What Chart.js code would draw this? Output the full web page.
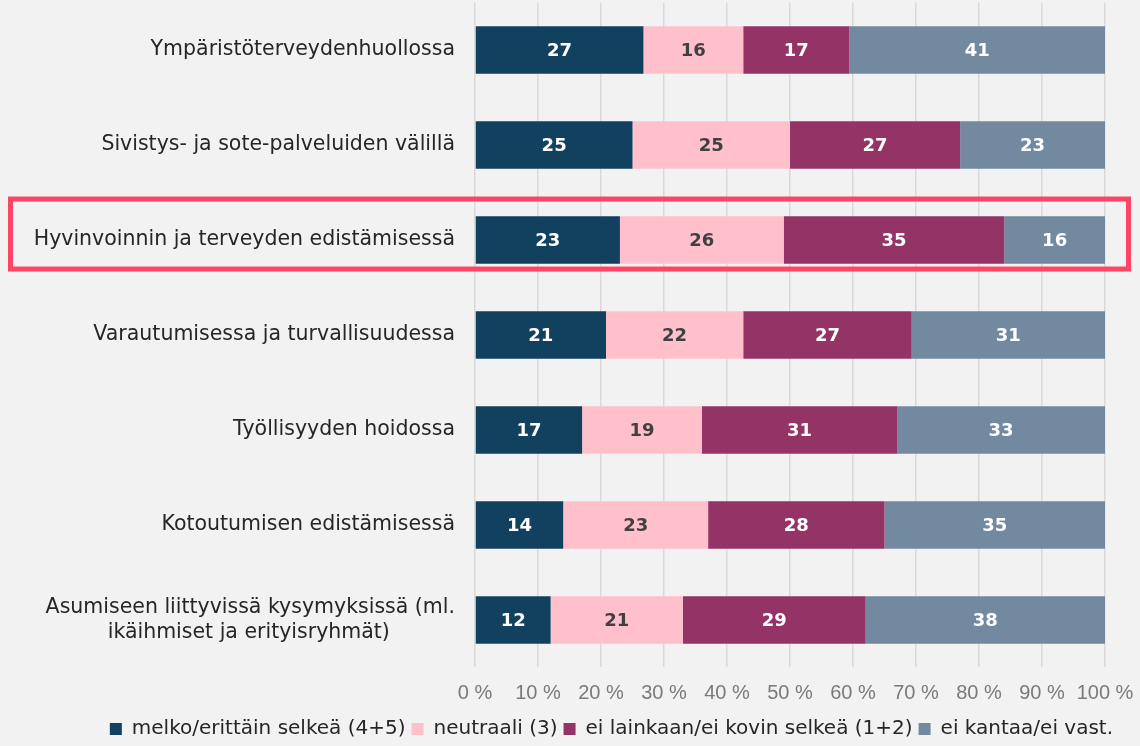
<!DOCTYPE html>
<html>
<head>
<meta charset="utf-8">
<script src="https://cdn.jsdelivr.net/npm/chart.js@4"></script>
<style>
  html, body { margin: 0; padding: 0; background: #f2f2f2; overflow: hidden; }
  #wrap { width: 1140px; height: 773px; position: relative; top: -22px; }
</style>
</head>
<body>
<div id="wrap"><canvas id="chart"></canvas></div>
<script>
// === Selkeys eri teemoissa, 100 % pinottu palkki ===

const categories = [
    'Ympäristöterveydenhuollossa',
    'Sivistys- ja sote-palveluiden välillä',
    'Hyvinvoinnin ja terveyden edistämisessä',
    'Varautumisessa ja turvallisuudessa',
    'Työllisyyden hoidossa',
    'Kotoutumisen edistämisessä',
    ['Asumiseen liittyvissä kysymyksissä (ml.', 'ikäihmiset ja erityisryhmät)          ']
];

const seriesNames = ['melko/erittäin selkeä (4+5)', 'neutraali (3)', 'ei lainkaan/ei kovin selkeä (1+2)', 'ei kantaa/ei vast.'];

const selkea = [27, 25, 23, 21, 17, 14, 12];
const neutraali = [16, 25, 26, 22, 19, 23, 21];
const epaselva = [17, 27, 35, 27, 31, 28, 29];
const eiKantaa = [41, 23, 16, 31, 33, 35, 38];

const xTicks = [0, 10, 20, 30, 40, 50, 60, 70, 80, 90, 100];

const highlightRow = 2;

// Theme colors
const COLORS = ['#12405f', '#ffc0cc', '#933366', '#7389a0'];
const LABEL_COLORS = ['#ffffff', '#404040', '#ffffff', '#ffffff'];
const FONT = '"DejaVu Sans", "Noto Sans", sans-serif';

const series = [selkea, neutraali, epaselva, eiKantaa];
const rowTotals = categories.map((c, i) => series.reduce((s, arr) => s + arr[i], 0));

const valueLabels = {
    id: 'valueLabels',
    afterDatasetsDraw(chart) {
        const ctx = chart.ctx;
        ctx.save();
        ctx.font = 'bold 18px ' + FONT;
        ctx.textAlign = 'center';
        ctx.textBaseline = 'middle';
        chart.data.datasets.forEach((ds, di) => {
            const meta = chart.getDatasetMeta(di);
            ctx.fillStyle = LABEL_COLORS[di];
            meta.data.forEach((bar, i) => {
                const cx = (bar.x + bar.base) / 2;
                ctx.fillText(String(ds.raw[i]), cx, bar.y + 1);
            });
        });
        ctx.restore();
    }
};

const highlightBox = {
    id: 'highlightBox',
    afterDraw(chart) {
        const ctx = chart.ctx;
        const y = chart.scales.y.getPixelForValue(highlightRow);
        ctx.save();
        ctx.strokeStyle = '#ff4466';
        ctx.lineWidth = 5;
        ctx.strokeRect(10.5, y - 41, chart.width - 22, 70);
        ctx.restore();
    }
};

Chart.defaults.font.family = FONT;

new Chart(document.getElementById('chart'), {
    type: 'bar',
    data: {
        labels: categories,
        datasets: series.map((arr, k) => ({
            label: seriesNames[k],
            raw: arr,
            data: arr.map((v, i) => v / rowTotals[i] * 100),
            backgroundColor: COLORS[k],
            borderWidth: 0,
            barPercentage: 0.5,
            categoryPercentage: 1
        }))
    },
    options: {
        indexAxis: 'y',
        responsive: true,
        maintainAspectRatio: false,
        animation: false,
        layout: { padding: { top: 0, right: 21, left: 0, bottom: 2 } },
        scales: {
            x: {
                stacked: true,
                min: 0,
                max: 100,
                afterBuildTicks: (scale) => { scale.ticks = xTicks.map(v => ({ value: v })); },
                afterFit: (scale) => { scale.height += 1; },
                grid: {
                    color: '#d9d9d9',
                    lineWidth: 1.5,
                    drawTicks: true,
                    tickLength: 7.4,
                    tickColor: 'rgba(0,0,0,0)'
                },
                border: { display: false },
                ticks: {
                    padding: 6.6,
                    maxRotation: 0,
                    minRotation: 0,
                    autoSkip: false,
                    color: '#7a7a7a',
                    font: { family: '"Liberation Sans", Arial, sans-serif', size: 20 },
                    callback: (v) => v + ' %'
                }
            },
            y: {
                stacked: true,
                grid: { display: false, drawTicks: true, tickLength: 20 },
                border: { display: false },
                afterFit: (scale) => { scale.width = 475; },
                ticks: {
                    padding: 0,
                    color: '#262626',
                    font: { size: 20.5, lineHeight: 1.2 }
                }
            }
        },
        plugins: {
            legend: {
                position: 'bottom',
                align: 'end',
                labels: {
                    boxWidth: 12,
                    boxHeight: 12,
                    padding: 6,
                    color: '#262626',
                    font: { size: 20 }
                }
            },
            tooltip: { enabled: false }
        }
    },
    plugins: [valueLabels, highlightBox]
});
</script>
</body>
</html>
